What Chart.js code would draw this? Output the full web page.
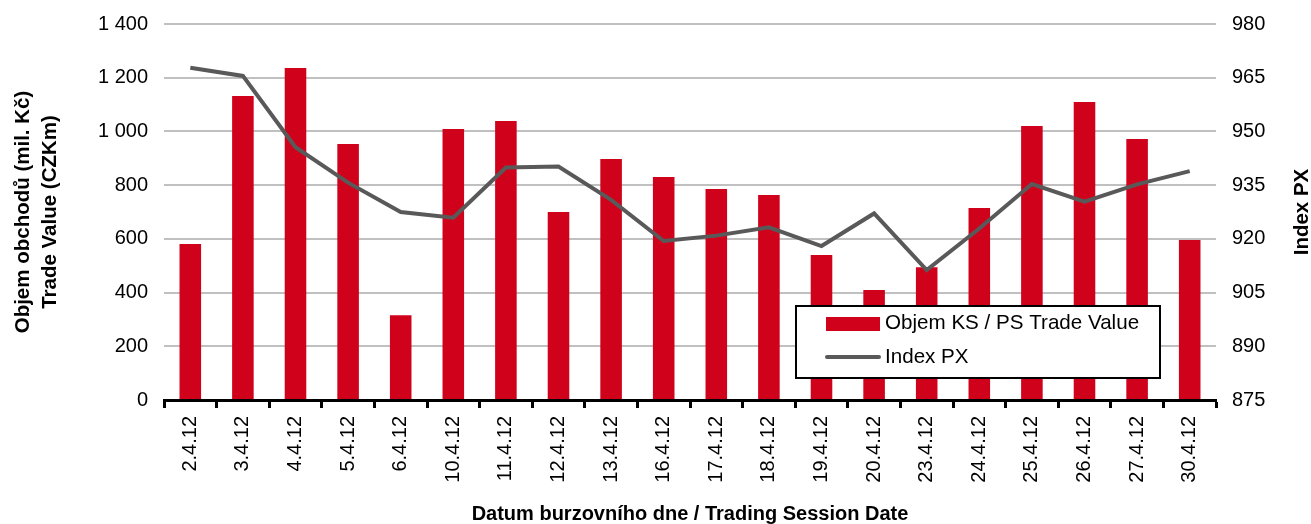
<!DOCTYPE html>
<html>
<head>
<meta charset="utf-8">
<script src="https://cdn.jsdelivr.net/npm/chart.js@4/dist/chart.umd.min.js"></script>
<style>
  html, body { margin: 0; padding: 0; background: #fff; }
</style>
</head>
<body>
<canvas id="chartjs" width="1311" height="524"></canvas>
<script>
const sessionDates = ["2.4.12", "3.4.12", "4.4.12", "5.4.12", "6.4.12", "10.4.12", "11.4.12", "12.4.12",
  "13.4.12", "16.4.12", "17.4.12", "18.4.12", "19.4.12", "20.4.12", "23.4.12", "24.4.12",
  "25.4.12", "26.4.12", "27.4.12", "30.4.12"];
const tradeValues = [581, 1132, 1236, 953, 316, 1009, 1039, 700, 897, 830, 786, 763, 540, 410, 494, 715,
  1020, 1110, 972, 596];
const indexPx = [967.8, 965.5, 945.6, 935.7, 927.5, 925.9, 939.9, 940.2, 930.9, 919.4, 920.9, 923.2,
  918.0, 927.1, 911.3, 922.9, 935.3, 930.4, 935.2, 938.9];
const leftTicks = [0, 200, 400, 600, 800, 1000, 1200, 1400];
const rightTicks = [875, 890, 905, 920, 935, 950, 965, 980];

const FONT = "'Liberation Sans', Arial, sans-serif";
Chart.defaults.font.family = FONT;
Chart.defaults.font.size = 20;
Chart.defaults.color = "#000";

// spaces as thousands separator: 1 400
const fmt = (v) => String(v).replace(/\B(?=(\d{3})+(?!\d))/g, " ");

// legend box inside the plot + right axis title (reads bottom to top)
const boxLegend = {
  id: "boxLegend",
  afterDraw(chart) {
    const ctx = chart.ctx;
    const area = chart.chartArea;
    const ds = chart.data.datasets;

    ctx.save();
    ctx.translate(1302, (area.top + area.bottom) / 2);
    ctx.rotate(-Math.PI / 2);
    ctx.font = "bold 20.5px " + FONT;
    ctx.fillStyle = "#000";
    ctx.textAlign = "center";
    ctx.textBaseline = "middle";
    ctx.fillText("Index PX", 0, 0);
    ctx.restore();

    ctx.save();
    ctx.fillStyle = "#fff";
    ctx.fillRect(795, 305, 366, 74);
    ctx.strokeStyle = "#000";
    ctx.lineWidth = 2;
    ctx.strokeRect(796, 306, 364, 72);

    ctx.fillStyle = ds[0].backgroundColor;
    ctx.fillRect(826, 317, 54, 14);

    ctx.strokeStyle = ds[1].borderColor;
    ctx.lineWidth = 4;
    ctx.lineCap = "round";
    ctx.beginPath();
    ctx.moveTo(827, 357);
    ctx.lineTo(879, 357);
    ctx.stroke();

    ctx.fillStyle = "#000";
    ctx.font = "20.6px " + FONT;
    ctx.textAlign = "left";
    ctx.textBaseline = "middle";
    ctx.fillText(ds[0].label, 885, 323);
    ctx.fillText(ds[1].label, 885, 357);
    ctx.restore();
  }
};

const chartElem = document.getElementById("chartjs");
const chart = new Chart(chartElem, {
  type: "bar",
  data: {
    labels: sessionDates,
    datasets: [
      {
        label: "Objem KS / PS Trade Value",
        data: tradeValues,
        backgroundColor: "#d0021b",
        yAxisID: "y",
        categoryPercentage: 1,
        barPercentage: 0.41,
        order: 1
      },
      {
        type: "line",
        label: "Index PX",
        data: indexPx,
        borderColor: "#595959",
        borderWidth: 4,
        pointRadius: 0,
        tension: 0,
        fill: false,
        yAxisID: "y1",
        order: 0
      }
    ]
  },
  options: {
    responsive: false,
    animation: false,
    devicePixelRatio: 1,
    layout: { padding: { top: 24, left: 0, right: 0, bottom: 0 } },
    plugins: {
      legend: { display: false },
      tooltip: { enabled: false }
    },
    scales: {
      x: {
        offset: true,
        grid: {
          offset: true,
          drawOnChartArea: false,
          drawTicks: true,
          tickLength: 8,
          tickWidth: 3,
          tickColor: "#000"
        },
        border: { display: true, color: "#000", width: 3 },
        ticks: { minRotation: 90, maxRotation: 90, autoSkip: false, padding: 8 },
        title: {
          display: true,
          text: "Datum burzovního dne / Trading Session Date",
          font: { weight: "bold", size: 20, lineHeight: 1 },
          padding: { top: 0, bottom: 0 }
        },
        afterFit: (s) => { s.height = 124; }
      },
      y: {
        position: "left",
        min: leftTicks[0],
        max: leftTicks[leftTicks.length - 1],
        afterBuildTicks: (s) => { s.ticks = leftTicks.map((v) => ({ value: v })); },
        ticks: { padding: 3, callback: (v) => fmt(v) },
        // invisible tick marks keep the label gap without padding the chart top
        grid: { color: "#c0c0c0", lineWidth: 2, drawTicks: true, tickLength: 13, tickColor: "rgba(0,0,0,0)" },
        border: { display: false },
        title: {
          display: true,
          text: ["Objem obchodů (mil. Kč)", "Trade Value (CZKm)"],
          font: { weight: "bold", size: 20.5, lineHeight: 1.32 },
          padding: { top: 10, bottom: 0 }
        },
        afterFit: (s) => { s.width = 164; }
      },
      y1: {
        position: "right",
        min: rightTicks[0],
        max: rightTicks[rightTicks.length - 1],
        afterBuildTicks: (s) => { s.ticks = rightTicks.map((v) => ({ value: v })); },
        ticks: { padding: 3 },
        grid: { drawOnChartArea: false, drawTicks: true, tickLength: 13, tickColor: "rgba(0,0,0,0)" },
        border: { display: false },
        afterFit: (s) => { s.width = 95; }
      }
    }
  },
  plugins: [boxLegend]
});
</script>
</body>
</html>
